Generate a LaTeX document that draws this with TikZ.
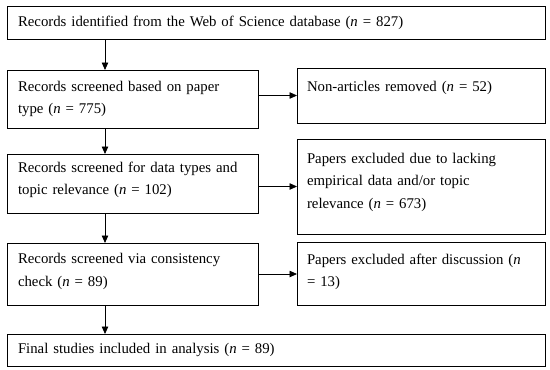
\documentclass[tikz,border=0pt]{standalone}
\usepackage{fontspec}
\setmainfont{Liberation Serif}
\usetikzlibrary{arrows.meta,positioning}

\begin{document}
\begin{tikzpicture}[
x=1pt, y=-1pt,
font=\fontsize{14.8}{22.5}\selectfont,
box/.style={draw, line width=0.9pt, align=left, inner xsep=11pt, inner ysep=0pt, outer sep=0pt},
wide/.style={box, text width=516pt, minimum height=33pt},
lbox/.style={box, text width=229pt},
rbox/.style={box, text width=228pt, inner xsep=10pt},
arrow/.style={-{Triangle[length=7.5pt,width=6.5pt]}, line width=0.8pt}
]
\useasboundingbox (0,0) rectangle (550,370);
\node[wide, anchor=north west] (ident) at (7,6) {Records identified from the Web of Science database (\textit{n} = 827)};
\node[lbox, minimum height=58pt, below right=31pt and 0pt of ident.south west] (paper) {Records screened based on paper\\type (\textit{n} = 775)};
\node[lbox, minimum height=59pt, text depth=33pt, below right=26pt and 0pt of paper.south west] (dtype) {Records screened for data types and\\topic relevance (\textit{n} = 102)};
\node[lbox, minimum height=62pt, text depth=31pt, below right=30pt and 0pt of dtype.south west] (consist) {Records screened via consistency\\check (\textit{n} = 89)};
\node[wide, minimum height=32pt, below right=29pt and 0pt of consist.south west] (final) {Final studies included in analysis (\textit{n} = 89)};

\node[rbox, minimum height=55pt, text depth=18pt, right=39pt of paper, yshift=3.5pt] (removed) {Non-articles removed (\textit{n} = 52)};
\node[rbox, minimum height=95pt, text depth=57pt, right=39pt of dtype, yshift=-3pt] (lacking) {Papers excluded due to lacking\\empirical data and/or topic\\relevance (\textit{n} = 673)};
\node[rbox, minimum height=63pt, text depth=30pt, right=39pt of consist] (discuss) {Papers excluded after discussion (\textit{n}\\= 13)};

\coordinate (col) at (105,0);
\draw[arrow] (ident.south -| col) -- (paper.north -| col);
\draw[arrow] (paper.south -| col) -- (dtype.north -| col);
\draw[arrow] (dtype.south -| col) -- (consist.north -| col);
\draw[arrow] (consist.south -| col) -- (final.north -| col);

\draw[arrow] (paper.east |- removed.west) -- (removed.west);
\draw[arrow] (dtype.east |- lacking.west) -- (lacking.west);
\draw[arrow] (consist.east |- discuss.west) -- (discuss.west);
\end{tikzpicture}
\end{document}
